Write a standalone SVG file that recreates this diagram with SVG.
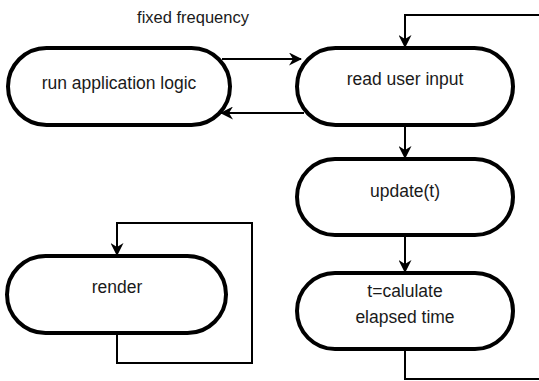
<svg xmlns="http://www.w3.org/2000/svg" width="539" height="381" viewBox="0 0 539 381">
<style>
.box{fill:#fff;stroke:#000;stroke-width:4}
.lbl{font-family:"Liberation Sans",Arial,sans-serif;font-size:17.5px;fill:#1a1a1a;text-anchor:middle}
.con{fill:none;stroke:#000;stroke-width:2}
</style>
<defs>
<marker id="ah" viewBox="0 0 13 13" refX="12" refY="6.5" markerWidth="13" markerHeight="13" markerUnits="userSpaceOnUse" orient="auto">
<path d="M0,0 L13,6.5 L0,13 L4,6.5 Z" fill="#000"/>
</marker>
</defs>
<rect width="539" height="381" fill="#fff"/>
<text class="lbl" x="193" y="23" style="font-size:16.5px">fixed frequency</text>
<g id="connectors">
<path class="con" d="M539,15 H405 V47" marker-end="url(#ah)"/>
<path class="con" d="M222,59 H301" marker-end="url(#ah)"/>
<path class="con" d="M304,113 H221" marker-end="url(#ah)"/>
<path class="con" d="M405,125 V158" marker-end="url(#ah)"/>
<path class="con" d="M405,235 V272" marker-end="url(#ah)"/>
<path class="con" d="M405,349 V379 H539"/>
<path class="con" d="M117,333 V363 H252 V223 H117 V255" marker-end="url(#ah)"/>
</g>
<g id="run-application-logic">
<rect class="box" x="8" y="48" width="222" height="77" rx="38.5"/>
<text class="lbl" x="119" y="89">run application logic</text>
</g>
<g id="read-user-input">
<rect class="box" x="297" y="48" width="216" height="77" rx="38.5"/>
<text class="lbl" x="405" y="85">read user input</text>
</g>
<g id="update">
<rect class="box" x="297" y="159" width="216" height="76" rx="38"/>
<text class="lbl" x="405" y="197">update(t)</text>
</g>
<g id="calculate">
<rect class="box" x="297" y="273" width="216" height="76" rx="38"/>
<text class="lbl" x="405" y="297">t=calulate</text>
<text class="lbl" x="405" y="323">elapsed time</text>
</g>
<g id="render">
<rect class="box" x="7" y="256" width="219" height="77" rx="38.5"/>
<text class="lbl" x="117" y="293">render</text>
</g>
</svg>
